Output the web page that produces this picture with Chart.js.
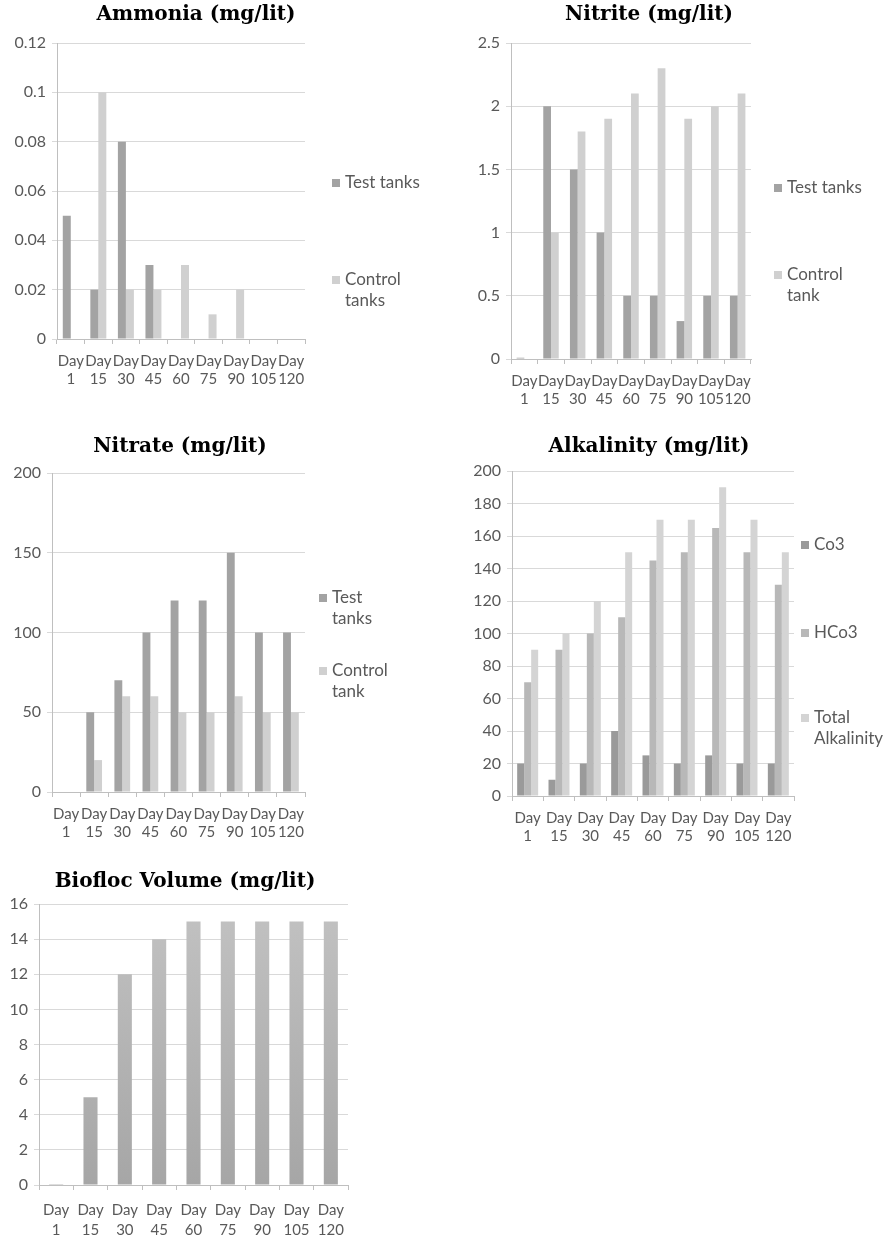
<!DOCTYPE html>
<html>
<head>
<meta charset="utf-8">
<script src="https://cdn.jsdelivr.net/npm/chart.js@4/dist/chart.umd.min.js"></script>
<style>
  html, body { margin: 0; padding: 0; background: #fff; }
  body { width: 884px; height: 1241px; position: relative; overflow: hidden; }
  .box { position: absolute; }
</style>
</head>
<body>
<div class="box" style="left:0;top:0"><canvas id="ammonia" width="442" height="405"></canvas></div>
<div class="box" style="left:442px;top:0"><canvas id="nitrite" width="442" height="405"></canvas></div>
<div class="box" style="left:0;top:405px"><canvas id="nitrate" width="442" height="440"></canvas></div>
<div class="box" style="left:442px;top:405px"><canvas id="alkalinity" width="442" height="455"></canvas></div>
<div class="box" style="left:0;top:845px"><canvas id="biofloc" width="442" height="396"></canvas></div>
<script>
// categories
const days = [['Day', '1'], ['Day', '15'], ['Day', '30'], ['Day', '45'], ['Day', '60'],
              ['Day', '75'], ['Day', '90'], ['Day', '105'], ['Day', '120']];

// Ammonia (mg/lit)
const ammoniaTest    = [0.05, 0.02, 0.08, 0.03, 0, 0, 0, 0, 0];
const ammoniaControl = [0, 0.1, 0.02, 0.02, 0.03, 0.01, 0.02, 0, 0];

// Nitrite (mg/lit)
const nitriteTest    = [0.01, 2, 1.5, 1, 0.5, 0.5, 0.3, 0.5, 0.5];
const nitriteControl = [0, 1, 1.8, 1.9, 2.1, 2.3, 1.9, 2, 2.1];

// Nitrate (mg/lit)
const nitrateTest    = [0, 50, 70, 100, 120, 120, 150, 100, 100];
const nitrateControl = [0, 20, 60, 60, 50, 50, 60, 50, 50];

// Alkalinity (mg/lit)
const co3   = [20, 10, 20, 40, 25, 20, 25, 20, 20];
const hco3  = [70, 90, 100, 110, 145, 150, 165, 150, 130];
const total = [90, 100, 120, 150, 170, 170, 190, 170, 150];

// Biofloc Volume (mg/lit)
const biofloc = [0.05, 5, 12, 14, 15, 15, 15, 15, 15];

const DARK = '#a3a3a3';
const LIGHT = '#d0d0d0';
const TICK_FONT = 'Lato';
const TEXT = '#595959';

function fmt(v) {
  return String(+Number(v).toFixed(4));
}

// draws the bold title and the wrapped legend on the right
function decorPlugin(title, legend) {
  return {
    id: 'decor',
    afterDraw(chart) {
      const ctx = chart.ctx;
      ctx.save();
      ctx.fillStyle = '#000';
      ctx.font = 'bold 20px "DejaVu Serif"';
      ctx.textAlign = 'center';
      ctx.textBaseline = 'middle';
      ctx.fillText(title.text, title.x, title.y);

      ctx.font = '17px ' + TICK_FONT;
      ctx.textAlign = 'left';
      (legend || []).forEach(item => {
        ctx.fillStyle = item.color;
        ctx.fillRect(item.x, item.y - 4, 8, 8);
        ctx.fillStyle = TEXT;
        item.lines.forEach((line, i) => {
          ctx.fillText(line, item.x + 13, item.y + i * 20.5);
        });
      });
      ctx.restore();
    }
  };
}

function makeChart(id, opts) {
  const c = document.getElementById(id);
  const xHeight = 50;
  return new Chart(c, {
    type: 'bar',
    data: { labels: days, datasets: opts.datasets },
    options: {
      responsive: false,
      animation: false,
      layout: {
        padding: { left: 0, top: opts.top, right: opts.right, bottom: c.height - opts.bottom - xHeight }
      },
      plugins: { legend: { display: false }, tooltip: { enabled: false } },
      datasets: { bar: { categoryPercentage: opts.catPct, barPercentage: 1 } },
      scales: {
        x: {
          afterFit(scale) { scale.height = xHeight; },
          grid: { drawOnChartArea: false, drawTicks: true, tickLength: 5, color: '#bfbfbf', offset: true },
          border: { color: '#bfbfbf' },
          ticks: {
            autoSkip: false, maxRotation: 0, minRotation: 0, padding: opts.xPad || 8,
            color: TEXT, font: { family: TICK_FONT, size: 15, lineHeight: opts.xLine || 1.2 }
          }
        },
        y: {
          min: 0, max: opts.max,
          afterFit(scale) { scale.width = opts.yWidth; },
          grid: { color: '#d9d9d9', tickLength: 5 },
          border: { color: '#bfbfbf' },
          ticks: {
            stepSize: opts.step, padding: 6, callback: fmt,
            color: TEXT, font: { family: TICK_FONT, size: 16 }
          }
        }
      }
    },
    plugins: [decorPlugin(opts.title, opts.legend)]
  });
}

makeChart('ammonia', {
  top: 43, right: 137, bottom: 339, yWidth: 57, max: 0.12, step: 0.02, catPct: 0.58,
  datasets: [
    { label: 'Test tanks', data: ammoniaTest, backgroundColor: DARK },
    { label: 'Control tanks', data: ammoniaControl, backgroundColor: LIGHT }
  ],
  title: { text: 'Ammonia (mg/lit)', x: 196, y: 15 },
  legend: [
    { lines: ['Test tanks'], x: 332, y: 183, color: DARK },
    { lines: ['Control', 'tanks'], x: 332, y: 280, color: LIGHT }
  ]
});

makeChart('nitrite', {
  top: 43, right: 133, bottom: 359, yWidth: 69, max: 2.5, step: 0.5, catPct: 0.58,
  datasets: [
    { label: 'Test tanks', data: nitriteTest, backgroundColor: DARK },
    { label: 'Control tank', data: nitriteControl, backgroundColor: LIGHT }
  ],
  title: { text: 'Nitrite (mg/lit)', x: 207, y: 15 },
  legend: [
    { lines: ['Test tanks'], x: 332, y: 188, color: DARK },
    { lines: ['Control', 'tank'], x: 332, y: 275, color: LIGHT }
  ]
});

makeChart('nitrate', {
  top: 68, right: 137, bottom: 387, yWidth: 52, max: 200, step: 50, catPct: 0.56,
  datasets: [
    { label: 'Test tanks', data: nitrateTest, backgroundColor: DARK },
    { label: 'Control tank', data: nitrateControl, backgroundColor: LIGHT }
  ],
  title: { text: 'Nitrate (mg/lit)', x: 180, y: 42 },
  legend: [
    { lines: ['Test', 'tanks'], x: 319, y: 193, color: DARK },
    { lines: ['Control', 'tank'], x: 319, y: 266, color: LIGHT }
  ]
});

makeChart('alkalinity', {
  top: 66, right: 90, bottom: 391, yWidth: 70, max: 200, step: 20, catPct: 0.67,
  datasets: [
    { label: 'Co3', data: co3, backgroundColor: '#9a9a9a' },
    { label: 'HCo3', data: hco3, backgroundColor: '#b8b8b8' },
    { label: 'Total Alkalinity', data: total, backgroundColor: '#d4d4d4' }
  ],
  title: { text: 'Alkalinity (mg/lit)', x: 207, y: 42 },
  legend: [
    { lines: ['Co3'], x: 359, y: 140, color: '#9a9a9a' },
    { lines: ['HCo3'], x: 359, y: 228, color: '#b8b8b8' },
    { lines: ['Total', 'Alkalinity'], x: 359, y: 313, color: '#d4d4d4' }
  ]
});

makeChart('biofloc', {
  top: 59, right: 94, bottom: 340, yWidth: 39, max: 16, step: 2, catPct: 0.41,
  xPad: 10, xLine: 1.35,
  datasets: [{
    label: 'Biofloc Volume',
    data: biofloc,
    backgroundColor(ctx) {
      const a = ctx.chart.chartArea;
      if (!a) return '#b3b3b3';
      const g = ctx.chart.ctx.createLinearGradient(0, a.top, 0, a.bottom);
      g.addColorStop(0, '#c2c2c2');
      g.addColorStop(1, '#a6a6a6');
      return g;
    }
  }],
  title: { text: 'Biofloc Volume (mg/lit)', x: 185, y: 37 },
  legend: []
});
</script>
</body>
</html>
